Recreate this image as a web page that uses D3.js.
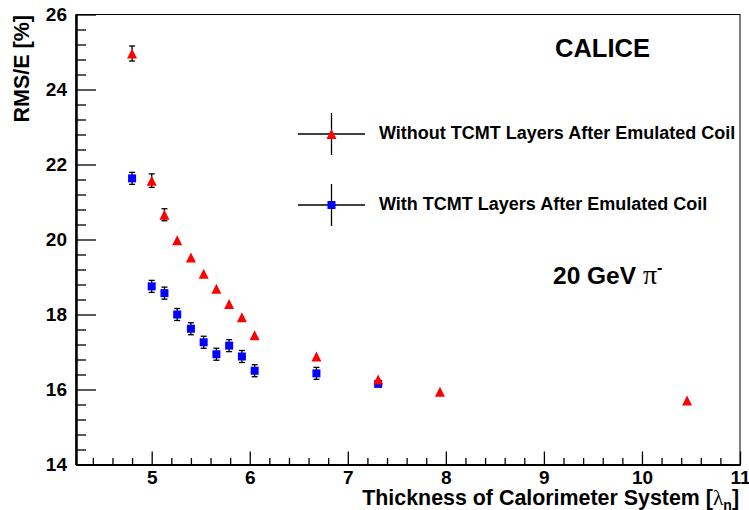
<!DOCTYPE html>
<html>
<head>
<meta charset="utf-8">
<script src="https://cdn.jsdelivr.net/npm/d3@7"></script>
<style>
  html, body { margin: 0; padding: 0; background: #fff; }
  svg { display: block; font-family: "Liberation Sans", Arial, Helvetica, sans-serif; }
</style>
</head>
<body>
<svg id="chart" width="749" height="510"></svg>
<script>
// ---- data ----
const xWithout = [4.8, 5.0, 5.13, 5.26, 5.4, 5.53, 5.66, 5.79, 5.92, 6.05, 6.68, 7.31, 7.94, 10.46];
const yWithout = [24.96, 21.57, 20.66, 19.98, 19.52, 19.09, 18.69, 18.28, 17.93, 17.45, 16.88, 16.27, 15.94, 15.71];
const eWithout = [0.2, 0.18, 0.16, 0.1, 0.1, 0.1, 0.1, 0.1, 0.1, 0.1, 0.1, 0.1, 0.1, 0.1];
const xWith = [4.8, 5.0, 5.13, 5.26, 5.4, 5.53, 5.66, 5.79, 5.92, 6.05, 6.68, 7.31];
const yWith = [21.63, 18.75, 18.57, 18.0, 17.62, 17.26, 16.94, 17.17, 16.88, 16.50, 16.43, 16.15];
const eWith = [0.16, 0.16, 0.16, 0.16, 0.16, 0.16, 0.16, 0.16, 0.16, 0.16, 0.16, 0.1];
const xTicks = [5, 6, 7, 8, 9, 10, 11];
const yTicks = [14, 16, 18, 20, 22, 24, 26];
const legendLabels = ["Without TCMT Layers After Emulated Coil", "With TCMT Layers After Emulated Coil"];

// ---- layout ----
const L = 76, R = 740, T = 14.5, B = 464.5;
const svg = d3.select("#chart");
const x = d3.scaleLinear().domain([4.228, 11]).range([L, R]);
const y = d3.scaleLinear().domain([14, 26]).range([B, T]);

// frame
svg.append("rect").attr("x", L).attr("y", T).attr("width", R - L).attr("height", B - T)
  .attr("fill", "none").attr("stroke", "#000").attr("stroke-width", 1);

// minor ticks
const xMinor = d3.range(4.4, 11.001, 0.2).filter(v => Math.abs(v - Math.round(v)) > 1e-6);
const yMinor = d3.range(14.4, 26, 0.4).filter(v => Math.abs(v/2 - Math.round(v/2)) > 1e-6);

const gxMinor = svg.append("g").attr("transform", `translate(0,${B})`)
  .call(d3.axisBottom(x).tickValues(xMinor).tickSizeInner(-6.5).tickSizeOuter(0).tickFormat(""));
const gx = svg.append("g").attr("transform", `translate(0,${B})`)
  .call(d3.axisBottom(x).tickValues(xTicks).tickSizeInner(-13).tickSizeOuter(0).tickPadding(6).tickFormat(d3.format("d")));
const gyMinor = svg.append("g").attr("transform", `translate(${L},0)`)
  .call(d3.axisLeft(y).tickValues(yMinor).tickSizeInner(-10).tickSizeOuter(0).tickFormat(""));
const gy = svg.append("g").attr("transform", `translate(${L},0)`)
  .call(d3.axisLeft(y).tickValues(yTicks).tickSizeInner(-20).tickSizeOuter(0).tickPadding(9).tickFormat(d3.format("d")));

[gxMinor, gx, gyMinor, gy].forEach(g => {
  g.selectAll(".domain").attr("stroke", "#000").attr("stroke-width", 2);
  g.selectAll(".tick line").attr("stroke", "#000").attr("stroke-width", 1.3);
});
gx.selectAll("text").attr("font-size", 19).attr("font-weight", "bold").attr("fill", "#000")
  .attr("font-family", "Liberation Sans, Arial, sans-serif");
gy.selectAll("text").attr("font-size", 19).attr("font-weight", "bold").attr("fill", "#000")
  .attr("font-family", "Liberation Sans, Arial, sans-serif");

// axis titles
const xt = svg.append("text").attr("x", 739).attr("y", 505).attr("text-anchor", "end")
  .attr("font-size", 21.4).attr("font-weight", "bold");
xt.append("tspan").text("Thickness of Calorimeter System [");
xt.append("tspan").attr("font-family", "Liberation Serif, serif").attr("font-weight", "normal").text("λ");
xt.append("tspan").attr("font-size", 14).attr("dy", 5).text("n");
xt.append("tspan").attr("dy", -5).text("]");

svg.append("text").attr("transform", "translate(29,15) rotate(-90)").attr("text-anchor", "end")
  .attr("font-size", 21.5).attr("font-weight", "bold").text("RMS/E [%]");

// error bars + markers
function drawSeries(xs, ys, es, color, shape, half) {
  const g = svg.append("g");
  const data = xs.map((v, i) => ({x: v, y: ys[i], e: es[i]}));
  const shown = data.filter(d => y(d.y - d.e) - y(d.y) > half + 0.5);
  const eb = g.selectAll("g.eb").data(shown).join("g");
  eb.append("line").attr("x1", d => x(d.x)).attr("x2", d => x(d.x))
    .attr("y1", d => y(d.y + d.e)).attr("y2", d => y(d.y - d.e)).attr("stroke", "#000").attr("stroke-width", 1.3);
  eb.append("line").attr("x1", d => x(d.x) - 3).attr("x2", d => x(d.x) + 3)
    .attr("y1", d => y(d.y + d.e)).attr("y2", d => y(d.y + d.e)).attr("stroke", "#000").attr("stroke-width", 1.3);
  eb.append("line").attr("x1", d => x(d.x) - 3).attr("x2", d => x(d.x) + 3)
    .attr("y1", d => y(d.y - d.e)).attr("y2", d => y(d.y - d.e)).attr("stroke", "#000").attr("stroke-width", 1.3);
  g.selectAll("path.m").data(data).join("path")
    .attr("d", d => marker(x(d.x), y(d.y), shape)).attr("fill", color);
}
function marker(cx, cy, shape) {
  if (shape === "tri") {
    const r = 5;
    return `M${cx - r},${cy + r}L${cx + r},${cy + r}L${cx},${cy - r}Z`;
  }
  const s = 4;
  return `M${cx - s},${cy - s}H${cx + s}V${cy + s}H${cx - s}Z`;
}
drawSeries(xWith, yWith, eWith, "#0000ff", "sq", 4);
drawSeries(xWithout, yWithout, eWithout, "#ff0000", "tri", 5);

// legend
const legY = [134, 205];
const legColors = ["#ff0000", "#0000ff"];
const legShapes = ["tri", "sq"];
legY.forEach((ly, i) => {
  svg.append("line").attr("x1", 298).attr("x2", 365).attr("y1", ly).attr("y2", ly).attr("stroke", "#000").attr("stroke-width", 1.3);
  svg.append("line").attr("x1", 331.5).attr("x2", 331.5).attr("y1", ly - 21).attr("y2", ly + 21).attr("stroke", "#000").attr("stroke-width", 1.3);
  svg.append("path").attr("d", marker(331.5, ly, legShapes[i])).attr("fill", legColors[i]);
  svg.append("text").attr("x", 379).attr("y", ly + 4.5).attr("font-size", 18).attr("font-weight", "bold").text(legendLabels[i]);
});

// annotations
svg.append("text").attr("x", 555).attr("y", 57).attr("font-size", 25.5).attr("font-weight", "bold").text("CALICE");
const ann = svg.append("text").attr("x", 553).attr("y", 284).attr("font-size", 24.5).attr("font-weight", "bold");
ann.append("tspan").text("20 GeV ");
ann.append("tspan").attr("font-family", "Liberation Serif, serif").attr("font-weight", "normal").attr("font-size", 28).text("π");
ann.append("tspan").attr("font-size", 16).attr("dy", -11).text("-");
</script>
</body>
</html>
